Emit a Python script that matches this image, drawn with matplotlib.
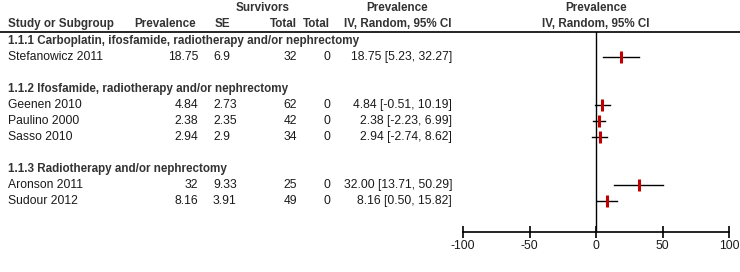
import matplotlib
matplotlib.use("Agg")
import matplotlib.pyplot as plt

plt.rcParams['font.family'] = ['Liberation Sans', 'DejaVu Sans']

# ---- data ----
groups = ["1.1.1 Carboplatin, ifosfamide, radiotherapy and/or nephrectomy",
          "1.1.2 Ifosfamide, radiotherapy and/or nephrectomy",
          "1.1.3 Radiotherapy and/or nephrectomy"]
group_of_study = [0, 1, 1, 1, 2, 2]
studies = ["Stefanowicz 2011", "Geenen 2010", "Paulino 2000", "Sasso 2010",
           "Aronson 2011", "Sudour 2012"]
prevalence = [18.75, 4.84, 2.38, 2.94, 32, 8.16]
se = [6.9, 2.73, 2.35, 2.9, 9.33, 3.91]
total = [32, 62, 42, 34, 25, 49]
total2 = [0, 0, 0, 0, 0, 0]
ci_est = [18.75, 4.84, 2.38, 2.94, 32.00, 8.16]
ci_lo = [5.23, -0.51, -2.23, -2.74, 13.71, 0.50]
ci_hi = [32.27, 10.19, 6.99, 8.62, 50.29, 15.82]
xticks = [-100, -50, 0, 50, 100]

# ---- layout ----
W, H = 740, 272
fig = plt.figure(figsize=(W / 100, H / 100), dpi=100)
fig.patch.set_facecolor('white')
ax = fig.add_axes([0, 0, 1, 1])
ax.set_xlim(0, W)
ax.set_ylim(H, 0)
ax.axis('off')

fs = 8.7
fsb = 8.35
hdr_col = '#333333'
txt_col = '#1a1a1a'

# row assignment
rows_group = []
rows_study = []
r = 0
last_g = None
for i, g in enumerate(group_of_study):
    if g != last_g:
        if last_g is not None:
            r += 1
        rows_group.append(r)
        r += 1
        last_g = g
    rows_study.append(r)
    r += 1

def ypix(row):
    return 41 + 16 * row

# header
hb = dict(fontsize=fsb, fontweight='bold', color=hdr_col, va='center')
ax.text(263, 8, "Survivors", ha='center', **hb)
ax.text(397, 8, "Prevalence", ha='center', **hb)
ax.text(596, 8, "Prevalence", ha='center', **hb)
ax.text(8, 24, "Study or Subgroup", ha='left', **hb)
ax.text(196, 24, "Prevalence", ha='right', **hb)
ax.text(215, 24, "SE", ha='left', **hb)
ax.text(297, 24, "Total", ha='right', **hb)
ax.text(330, 24, "Total", ha='right', **hb)
ax.text(452, 24, "IV, Random, 95% CI", ha='right', **hb)
ax.text(596, 24, "IV, Random, 95% CI", ha='center', **hb)
ax.plot([0, W], [32, 32], color='black', lw=1.2)

for g, rg in zip(groups, rows_group):
    ax.text(8, ypix(rg), g, ha='left', **hb)

tk = dict(fontsize=fs, color=txt_col, va='center')
for i, s in enumerate(studies):
    y = ypix(rows_study[i])
    ax.text(8, y, s, ha='left', **tk)
    ax.text(198, y, f"{prevalence[i]:g}", ha='right', **tk)
    ax.text(213, y, f"{se[i]:g}", ha='left', **tk)
    ax.text(297, y, f"{total[i]:g}", ha='right', **tk)
    ax.text(330, y, f"{total2[i]:g}", ha='right', **tk)
    ax.text(452, y, f"{ci_est[i]:.2f} [{ci_lo[i]:.2f}, {ci_hi[i]:.2f}]", ha='right', **tk)

# forest axes
x0, x1 = 463, 729
ytop, ybot = 32, 232
fa = fig.add_axes([x0 / W, (H - ybot) / H, (x1 - x0) / W, (ybot - ytop) / H])
fa.set_xlim(-100, 100)
fa.set_ylim((ybot - 41) / 16, (ytop - 41) / 16)
fa.patch.set_alpha(0)
for sp in ['top', 'right', 'left']:
    fa.spines[sp].set_visible(False)
fa.spines['bottom'].set_linewidth(1.2)
fa.set_yticks([])
fa.set_xticks(xticks)
fa.set_xticklabels([f"{t}" for t in xticks])
fa.tick_params(axis='x', direction='inout', length=9, width=1.2, labelsize=fs,
               pad=1, labelcolor=txt_col)
fa.axvline(0, color='black', lw=1.0)

for i in range(len(studies)):
    yr = rows_study[i]
    fa.plot([ci_lo[i], ci_hi[i]], [yr, yr], color='black', lw=1.0)
    fa.plot([ci_est[i]], [yr], marker='|', markersize=9, markeredgewidth=2.2,
            color='#c00000', linestyle='none')

fig.savefig("out.png", dpi=100, facecolor='white')
